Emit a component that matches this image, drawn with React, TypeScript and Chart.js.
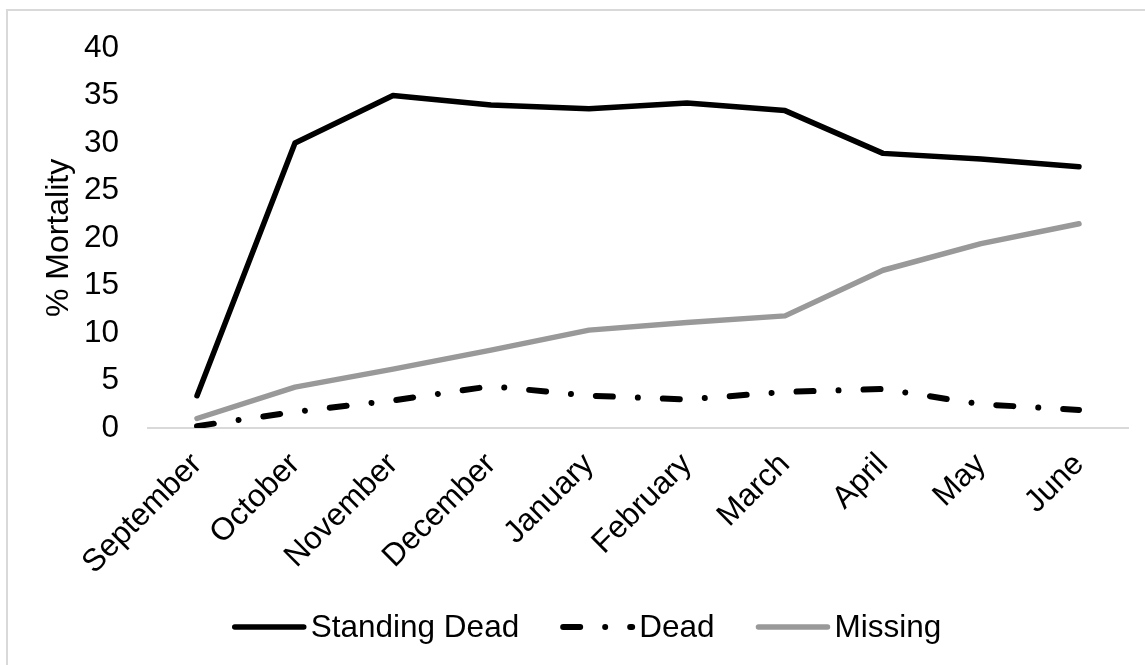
import React, { useEffect, useRef } from "react";
import { Chart, registerables } from "chart.js";

Chart.register(...registerables);

const months = [
  "September",
  "October",
  "November",
  "December",
  "January",
  "February",
  "March",
  "April",
  "May",
  "June",
];
const standingDead = [3.4, 30.0, 35.0, 34.0, 33.6, 34.2, 33.4, 28.9, 28.3, 27.5];
const dead = [0.2, 1.7, 2.9, 4.4, 3.4, 3.0, 3.8, 4.1, 2.5, 1.9];
const missing = [1.0, 4.3, 6.2, 8.2, 10.3, 11.1, 11.8, 16.6, 19.4, 21.5];
const yMin = 0;
const yMax = 40;
const yStep = 5;
const yTitle = "% Mortality";

const FONT = "'Liberation Sans', Arial, Helvetica, sans-serif";
const FS = 31.5;

const legendPlugin = {
  id: "customLegend",
  afterDraw(chart: any) {
    const ctx = chart.ctx;
    ctx.save();
    ctx.font = `${FS}px ${FONT}`;
    const sampleLen = 72;
    const textOffset = 79;
    const itemGap = 41;
    const items = chart.data.datasets.map((ds: any) => ({
      text: ds.label,
      color: ds.borderColor,
      dash: ds.borderDash || [],
      width: ds.borderWidth,
      tw: ctx.measureText(ds.label).width,
    }));
    let total = 0;
    items.forEach((it: any, i: number) => {
      total += textOffset + it.tw + (i ? itemGap : 0);
    });
    let x = chart.width / 2 + 14 - total / 2;
    const y = 627;
    items.forEach((it: any) => {
      ctx.beginPath();
      ctx.setLineDash(it.dash);
      ctx.lineCap = "round";
      ctx.strokeStyle = it.color;
      ctx.lineWidth = it.width;
      ctx.moveTo(x + 3, y);
      ctx.lineTo(x + sampleLen, y);
      ctx.stroke();
      ctx.setLineDash([]);
      ctx.fillStyle = "#000";
      ctx.textBaseline = "middle";
      ctx.textAlign = "left";
      ctx.fillText(it.text, x + textOffset, y + 1);
      x += textOffset + it.tw + itemGap;
    });
    ctx.restore();
  },
};

export default function App() {
  const canvasRef = useRef<HTMLCanvasElement | null>(null);

  useEffect(() => {
    if (!canvasRef.current) return;
    const chart = new Chart(canvasRef.current, {
      type: "line",
      data: {
        labels: months,
        datasets: [
          {
            label: "Standing Dead",
            data: standingDead,
            borderColor: "#000000",
            backgroundColor: "#000000",
            borderWidth: 5.5,
            borderCapStyle: "round",
            borderJoinStyle: "round",
            pointRadius: 0,
            tension: 0,
          },
          {
            label: "Dead",
            data: dead,
            borderColor: "#000000",
            backgroundColor: "#000000",
            borderWidth: 6,
            borderDash: [17, 25, 0.01, 25],
            borderCapStyle: "round",
            borderJoinStyle: "round",
            pointRadius: 0,
            tension: 0,
          },
          {
            label: "Missing",
            data: missing,
            borderColor: "#999999",
            backgroundColor: "#999999",
            borderWidth: 5.5,
            borderCapStyle: "round",
            borderJoinStyle: "round",
            pointRadius: 0,
            tension: 0,
          },
        ],
      },
      options: {
        animation: false,
        responsive: false,
        maintainAspectRatio: false,
        layout: { padding: { left: 0, right: 17, top: 42, bottom: 67 } },
        plugins: {
          legend: { display: false },
          tooltip: { enabled: false },
        },
        scales: {
          x: {
            offset: true,
            grid: { display: false, drawTicks: false },
            border: { display: true, color: "#d9d9d9", width: 2 },
            ticks: {
              color: "#000",
              font: { family: FONT, size: FS },
              minRotation: 45,
              maxRotation: 45,
              padding: 18,
              autoSkip: false,
            },
            afterFit: (s: any) => {
              s.height = 170;
            },
          },
          y: {
            min: yMin,
            max: yMax,
            grid: { display: false, drawTicks: false },
            border: { display: false },
            ticks: {
              stepSize: yStep,
              color: "#000",
              font: { family: FONT, size: FS },
              padding: 29,
            },
            title: {
              display: true,
              text: yTitle,
              color: "#000",
              font: { family: FONT, size: 32 },
              padding: { top: 40, bottom: 0 },
            },
            afterFit: (s: any) => {
              s.width = 148;
            },
          },
        },
      },
      plugins: [legendPlugin],
    });
    return () => chart.destroy();
  }, []);

  return (
    <div
      style={{
        position: "fixed",
        left: 0,
        top: 0,
        width: 1145,
        height: 665,
        overflow: "hidden",
        background: "#fff",
      }}
    >
      <div
        style={{
          position: "absolute",
          left: 6,
          top: 9,
          width: 1200,
          height: 700,
          borderLeft: "2px solid #d9d9d9",
          borderTop: "2px solid #d9d9d9",
        }}
      />
      <canvas
        ref={canvasRef}
        width={1145}
        height={665}
        style={{ position: "absolute", left: 0, top: 0, width: 1145, height: 665 }}
      />
    </div>
  );
}
